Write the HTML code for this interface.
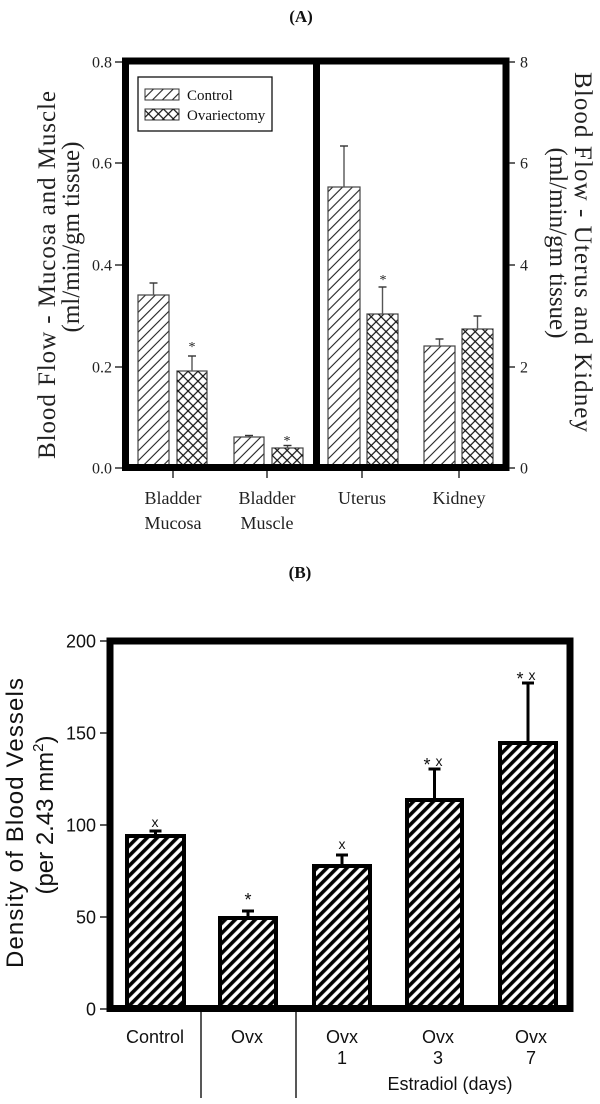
<!DOCTYPE html>
<html><head><meta charset="utf-8"><style>
html,body{margin:0;padding:0;background:#fff;}
svg{display:block;}
</style></head><body>
<svg width="600" height="1104" viewBox="0 0 600 1104" xmlns="http://www.w3.org/2000/svg">
<defs>
<pattern id="dA" patternUnits="userSpaceOnUse" width="7" height="7" patternTransform="rotate(45)">
<line x1="3.5" y1="-1" x2="3.5" y2="8" stroke="#222" stroke-width="1.1"/></pattern>
<pattern id="cA1" patternUnits="userSpaceOnUse" width="7" height="7" patternTransform="rotate(45)">
<line x1="3.5" y1="-1" x2="3.5" y2="8" stroke="#111" stroke-width="1.2"/></pattern>
<pattern id="cA2" patternUnits="userSpaceOnUse" width="7" height="7" patternTransform="rotate(-45)">
<line x1="3.5" y1="-1" x2="3.5" y2="8" stroke="#111" stroke-width="1.2"/></pattern>
<pattern id="dB" patternUnits="userSpaceOnUse" width="7.07" height="7.07" patternTransform="rotate(45)">
<rect x="1.8" y="-1" width="3.6" height="9.5" fill="#000"/></pattern>
</defs>

<!-- ================= PANEL A ================= -->
<text x="301" y="22" font-family="Liberation Serif, serif" font-weight="bold" font-size="17" text-anchor="middle" fill="#111">(A)</text>

<!-- bars A -->
<g stroke="#444" stroke-width="1.2">
<rect x="138" y="295" width="31" height="173" fill="url(#dA)"/>
<rect x="177" y="371" width="30" height="97" fill="url(#cA1)"/>
<rect x="177" y="371" width="30" height="97" fill="url(#cA2)" stroke="none"/>
<rect x="234" y="437" width="30" height="31" fill="url(#dA)"/>
<rect x="272" y="448" width="31" height="20" fill="url(#cA1)"/>
<rect x="272" y="448" width="31" height="20" fill="url(#cA2)" stroke="none"/>
<rect x="328" y="187" width="32" height="281" fill="url(#dA)"/>
<rect x="367" y="314" width="31" height="154" fill="url(#cA1)"/>
<rect x="367" y="314" width="31" height="154" fill="url(#cA2)" stroke="none"/>
<rect x="424" y="346" width="31" height="122" fill="url(#dA)"/>
<rect x="462" y="329" width="31" height="139" fill="url(#cA1)"/>
<rect x="462" y="329" width="31" height="139" fill="url(#cA2)" stroke="none"/>
</g>
<!-- error bars A -->
<g stroke="#555" stroke-width="1.4">
<line x1="153.5" y1="295" x2="153.5" y2="283"/><line x1="149.5" y1="283" x2="157.5" y2="283" stroke="#333"/>
<line x1="192" y1="371" x2="192" y2="356"/><line x1="188" y1="356" x2="196" y2="356" stroke="#333"/>
<line x1="249" y1="437" x2="249" y2="435.5"/><line x1="245" y1="435.5" x2="253" y2="435.5" stroke="#333"/>
<line x1="287.5" y1="448" x2="287.5" y2="445.5"/><line x1="283.5" y1="445.5" x2="291.5" y2="445.5" stroke="#333"/>
<line x1="344" y1="187" x2="344" y2="146"/><line x1="340" y1="146" x2="348" y2="146" stroke="#333"/>
<line x1="382.5" y1="314" x2="382.5" y2="287"/><line x1="378.5" y1="287" x2="386.5" y2="287" stroke="#333"/>
<line x1="439.5" y1="346" x2="439.5" y2="339"/><line x1="435.5" y1="339" x2="443.5" y2="339" stroke="#333"/>
<line x1="477.5" y1="329" x2="477.5" y2="316"/><line x1="473.5" y1="316" x2="481.5" y2="316" stroke="#333"/>
</g>
<g font-family="Liberation Serif, serif" font-size="14" fill="#222" text-anchor="middle">
<text x="192" y="351">*</text>
<text x="287" y="445">*</text>
<text x="383" y="284">*</text>
</g>

<!-- frame A -->
<g stroke="#000" fill="none">
<rect x="125.5" y="61" width="380.5" height="406.5" stroke-width="7"/>
<line x1="316.5" y1="61" x2="316.5" y2="468" stroke-width="7"/>
</g>
<!-- ticks A -->
<g stroke="#222" stroke-width="1.4">
<line x1="115" y1="62" x2="122" y2="62"/><line x1="115" y1="163" x2="122" y2="163"/>
<line x1="115" y1="265" x2="122" y2="265"/><line x1="115" y1="367" x2="122" y2="367"/>
<line x1="115" y1="468" x2="122" y2="468"/>
<line x1="509" y1="62" x2="515" y2="62"/><line x1="509" y1="163" x2="515" y2="163"/>
<line x1="509" y1="265" x2="515" y2="265"/><line x1="509" y1="367" x2="515" y2="367"/>
<line x1="509" y1="468" x2="515" y2="468"/>
<line x1="173" y1="471" x2="173" y2="478"/><line x1="267" y1="471" x2="267" y2="478"/>
<line x1="362" y1="471" x2="362" y2="478"/><line x1="459" y1="471" x2="459" y2="478"/>
</g>
<g font-family="Liberation Serif, serif" font-size="16" fill="#222">
<g text-anchor="end">
<text x="112" y="67.5">0.8</text><text x="112" y="168.5">0.6</text>
<text x="112" y="270.5">0.4</text><text x="112" y="372.5">0.2</text>
<text x="112" y="473.5">0.0</text>
</g>
<text x="520" y="67.5">8</text><text x="520" y="168.5">6</text>
<text x="520" y="270.5">4</text><text x="520" y="372.5">2</text>
<text x="520" y="473.5">0</text>
</g>
<g font-family="Liberation Serif, serif" font-size="18" fill="#222" text-anchor="middle">
<text x="173" y="504">Bladder</text><text x="173" y="529">Mucosa</text>
<text x="267" y="504">Bladder</text><text x="267" y="529">Muscle</text>
<text x="362" y="504">Uterus</text>
<text x="459" y="504">Kidney</text>
</g>

<!-- legend -->
<rect x="138" y="77" width="134" height="54" fill="#fff" stroke="#111" stroke-width="1.3"/>
<rect x="145" y="89" width="34" height="11" fill="url(#dA)" stroke="#333" stroke-width="1"/>
<rect x="145" y="109" width="34" height="11" fill="url(#cA1)" stroke="#333" stroke-width="1"/>
<rect x="145" y="109" width="34" height="11" fill="url(#cA2)"/>
<g font-family="Liberation Serif, serif" font-size="15" fill="#111">
<text x="187" y="100">Control</text>
<text x="187" y="120">Ovariectomy</text>
</g>

<!-- axis titles A -->
<g font-family="Liberation Serif, serif" font-size="25" fill="#222" text-anchor="middle">
<text transform="translate(55,275) rotate(-90)" textLength="368" lengthAdjust="spacing">Blood  Flow  -  Mucosa  and  Muscle</text>
<text transform="translate(79,237) rotate(-90)">(ml/min/gm tissue)</text>
<text transform="translate(575,252) rotate(90)" textLength="360" lengthAdjust="spacing">Blood  Flow  -  Uterus  and  Kidney</text>
<text transform="translate(550,243) rotate(90)">(ml/min/gm tissue)</text>
</g>

<!-- ================= PANEL B ================= -->
<text x="300" y="578" font-family="Liberation Serif, serif" font-weight="bold" font-size="17" text-anchor="middle" fill="#111">(B)</text>

<g stroke="#000" stroke-width="4">
<rect x="127" y="836" width="57" height="173" fill="url(#dB)"/>
<rect x="220" y="918" width="56" height="91" fill="url(#dB)"/>
<rect x="314" y="866" width="56" height="143" fill="url(#dB)"/>
<rect x="407" y="800" width="55" height="209" fill="url(#dB)"/>
<rect x="500" y="743" width="56" height="266" fill="url(#dB)"/>
</g>
<g stroke="#000" stroke-width="3">
<line x1="155.5" y1="834" x2="155.5" y2="831"/><line x1="149.5" y1="831" x2="161.5" y2="831"/>
<line x1="248" y1="916" x2="248" y2="911"/><line x1="242" y1="911" x2="254" y2="911"/>
<line x1="342" y1="864" x2="342" y2="855"/><line x1="336" y1="855" x2="348" y2="855"/>
<line x1="434.5" y1="798" x2="434.5" y2="769"/><line x1="428.5" y1="769" x2="440.5" y2="769"/>
<line x1="528" y1="741" x2="528" y2="683"/><line x1="522" y1="683" x2="534" y2="683"/>
</g>
<g font-family="Liberation Sans, sans-serif" fill="#111" text-anchor="middle">
<text x="155" y="827" font-size="14">x</text>
<text x="248" y="906" font-size="18">*</text>
<text x="342" y="849" font-size="14">x</text>
<text x="427" y="771" font-size="18">*</text>
<text x="439" y="766" font-size="14">x</text>
<text x="520" y="685" font-size="18">*</text>
<text x="532" y="680" font-size="14">x</text>
</g>

<!-- frame B -->
<rect x="110" y="641" width="460" height="367.5" fill="none" stroke="#000" stroke-width="7"/>
<g stroke="#111" stroke-width="1.4">
<line x1="100" y1="641" x2="107" y2="641"/><line x1="100" y1="733" x2="107" y2="733"/>
<line x1="100" y1="825" x2="107" y2="825"/><line x1="100" y1="917" x2="107" y2="917"/>
<line x1="100" y1="1009" x2="107" y2="1009"/>
<line x1="201" y1="1012" x2="201" y2="1098"/>
<line x1="296" y1="1012" x2="296" y2="1098"/>
</g>
<g font-family="Liberation Sans, sans-serif" font-size="18" fill="#111">
<g text-anchor="end">
<text x="96" y="647.5">200</text><text x="96" y="739.5">150</text>
<text x="96" y="831.5">100</text><text x="96" y="923.5">50</text>
<text x="96" y="1015.5">0</text>
</g>
<g text-anchor="middle">
<text x="155" y="1043">Control</text>
<text x="247" y="1043">Ovx</text>
<text x="342" y="1043">Ovx</text><text x="342" y="1064">1</text>
<text x="438" y="1043">Ovx</text><text x="438" y="1064">3</text>
<text x="531" y="1043">Ovx</text><text x="531" y="1064">7</text>
<text x="450" y="1090">Estradiol (days)</text>
</g>
</g>
<g font-family="Liberation Sans, sans-serif" font-size="24" fill="#111" text-anchor="middle">
<text transform="translate(23,823) rotate(-90)" textLength="290" lengthAdjust="spacing">Density  of  Blood  Vessels</text>
<text transform="translate(53,815) rotate(-90)">(per 2.43 mm<tspan font-size="15" dy="-10">2</tspan><tspan dy="10">)</tspan></text>
</g>
</svg>
</body></html>
